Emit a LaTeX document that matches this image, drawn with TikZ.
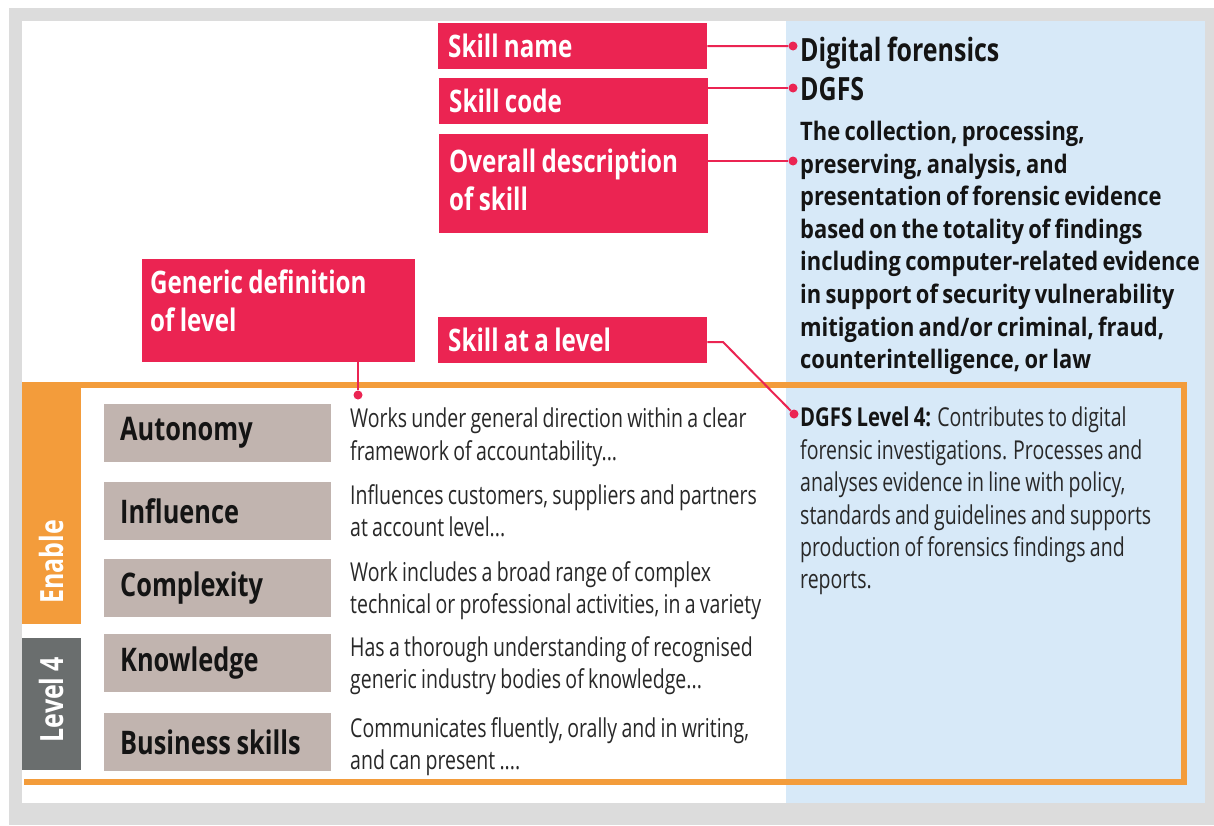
\documentclass[tikz,border=0pt]{standalone}
\usepackage{fontspec}
\setmainfont{Open Sans}[FakeStretch=0.78, WordSpace=0.85]
\newfontfamily\thinfont{Open Sans}[FakeStretch=0.75, WordSpace=0.85]
\newfontfamily\descfont{Open Sans}[FakeStretch=0.86, WordSpace=0.75]
\usetikzlibrary{positioning}

\definecolor{skillred}{RGB}{235,36,82}
\definecolor{frameorange}{RGB}{243,156,59}
\definecolor{attrtaupe}{RGB}{193,180,175}
\definecolor{levelgray}{RGB}{106,110,110}
\definecolor{panelblue}{RGB}{215,233,248}
\definecolor{outergray}{RGB}{220,220,220}
\definecolor{inkblack}{RGB}{20,20,20}
\definecolor{inkgray}{RGB}{40,40,40}

\tikzset{
  redlabel/.style={fill=skillred, text=white, anchor=north west, text width=249pt,
    inner xsep=10pt, align=flush left, font=\bfseries\fontsize{31}{38}\selectfont},
  attrbox/.style={fill=attrtaupe, text=inkblack, anchor=north west, text width=195pt,
    minimum height=58pt, inner xsep=16pt, align=flush left, font=\bfseries\fontsize{32.5}{36}\selectfont},
  attrtext/.style={anchor=north west, inner sep=0pt, align=left, text=inkgray,
    font=\thinfont\fontsize{26}{32.4}\selectfont},
  bandtext/.style={text=white, rotate=90, inner sep=0pt, font=\bfseries\fontsize{32}{36}\selectfont},
  pindot/.style={circle, fill=skillred, inner sep=0pt, minimum size=9pt},
  pinline/.style={draw=skillred, line width=2pt},
}

\begin{document}
\begin{tikzpicture}[x=1pt, y=-1pt]
    \useasboundingbox (0,0) rectangle (1214,825);
    % background and panels
    \fill[outergray] (9,8) rectangle (1214,825);
    \fill[white] (22,21) rectangle (786,803);
    \fill[panelblue] (786,21) rectangle (1205,803);

    % orange level frame with side bands
    \draw[frameorange, line width=6pt] (22,384.5) -- (1184,384.5) -- (1184,781.5) -- (24,781.5);
    \fill[frameorange] (22,382) rectangle (81,624);
    \fill[levelgray] (22,638) rectangle (81,770);
    \node[bandtext] (enable) at (51,562) {Enable};
    \node[bandtext] (levelfour) at (51,700) {Level 4};

    % red labels
    \node[redlabel, minimum height=46pt] (skillname) at (438,23) {Skill name};
    \node[redlabel, minimum height=46pt] (skillcode) at (439,78) {Skill code};
    \node[redlabel, minimum height=99pt] (overall) at (439,134) {Overall description\\of skill\par\vspace{8pt}};
    \node[redlabel, minimum height=46pt] (atlevel) at (438,317) {Skill at a level};
    \node[redlabel, text width=257pt, inner xsep=8pt, minimum height=103pt] (generic) at (142,259) {Generic definition\\of level\par\vspace{20pt}};

    % skill panel texts
    \node[anchor=north west, inner sep=0pt, text=inkblack, font=\bfseries\fontsize{32}{38}\selectfont] (skilltitle) at (800,37) {Digital forensics};
    \node[anchor=north west, inner sep=0pt, text=inkblack, font=\bfseries\fontsize{32}{38}\selectfont] (skillid) at (800,77) {DGFS};
    \node[anchor=north west, inner sep=0pt, align=left, text=inkblack, font=\descfont\bfseries\fontsize{25.5}{32.6}\selectfont] (skilldesc) at (800,121)
        {The collection, processing,\\preserving, analysis, and\\presentation of forensic evidence\\based on the totality of findings\\including computer-related evidence\\in support of security vulnerability\\mitigation and/or criminal, fraud,\\counterintelligence, or law};
    \node[anchor=north west, inner sep=0pt, align=left, text=inkgray, font=\thinfont\fontsize{26}{32.4}\selectfont] (leveldesc) at (800,407)
        {{\rmfamily\bfseries\color{inkblack}DGFS Level 4:} Contributes to digital\\forensic investigations. Processes and\\analyses evidence in line with policy,\\standards and guidelines and supports\\production of forensics findings and\\reports.};

    % attributes of the level
    \node[attrbox] (autonomy) at (104,404) {Autonomy};
    \node[attrbox] (influence) at (104,482) {Influence};
    \node[attrbox] (complexity) at (104,559) {Complexity};
    \node[attrbox] (knowledge) at (104,634) {Knowledge};
    \node[attrbox] (business) at (104,713) {Business skills};
    \node[attrtext] (autonomytext) at (350,408) {Works under general direction within a clear\\framework of accountability...};
    \node[attrtext] (influencetext) at (350,484) {Influences customers, suppliers and partners\\at account level...};
    \node[attrtext] (complexitytext) at (350,561) {Work includes a broad range of complex\\technical or professional activities, in a variety};
    \node[attrtext] (knowledgetext) at (350,636) {Has a thorough understanding of recognised\\generic industry bodies of knowledge...};
    \node[attrtext] (businesstext) at (350,717) {Communicates fluently, orally and in writing,\\and can present ....};

    % pointers
    \node[pindot] (namedot) at (793,46) {};
    \node[pindot] (codedot) at (793,88) {};
    \node[pindot] (descdot) at (793,161) {};
    \node[pindot] (leveldot) at (794,414) {};
    \node[pindot] (gendot) at (358,395) {};
    \coordinate (levelbend) at (723,342);
    \draw[pinline] (skillname.east) -- (namedot);
    \draw[pinline] (skillcode.east |- codedot) -- (codedot);
    \draw[pinline] (overall.east |- descdot) -- (descdot);
    \draw[pinline] (atlevel.east |- levelbend) -- (levelbend) -- (leveldot);
    \draw[pinline] (generic.south -| gendot) -- (gendot);
\end{tikzpicture}
\end{document}
